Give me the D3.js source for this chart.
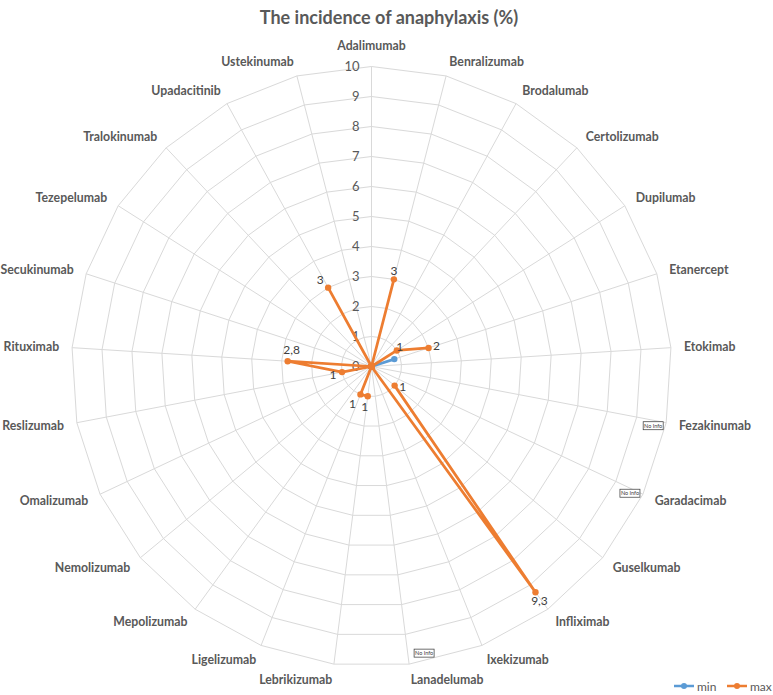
<!DOCTYPE html>
<html>
<head>
<meta charset="utf-8">
<script src="https://cdn.jsdelivr.net/npm/d3@7"></script>
<style>
  body { margin: 0; background: #fff; }
  text { font-family: Lato, "Open Sans", sans-serif; }
</style>
</head>
<body>
<div id="chart"></div>
<script>
// categories clockwise from the top
const categories = ["Adalimumab", "Benralizumab", "Brodalumab", "Certolizumab", "Dupilumab",
  "Etanercept", "Etokimab", "Fezakinumab", "Garadacimab", "Guselkumab", "Infliximab",
  "Ixekizumab", "Lanadelumab", "Lebrikizumab", "Ligelizumab", "Mepolizumab", "Nemolizumab",
  "Omalizumab", "Reslizumab", "Rituximab", "Secukinumab", "Tezepelumab", "Tralokinumab",
  "Upadacitinib", "Ustekinumab"];

// null = no data (gap in the line)
const minValues = [0, 0, 0, 0, 0, 0.8, null, null, null, 0, 0, 0, null, 0, 0, 0, 0, 0, 0, 0, 0, 0, 0, 0, 0];
const maxValues = [0, 3, 0, 0, 1, 2, null, null, null, 1, 9.3, 0, null, 1, 1, 0, 0, 0, 1, 2.8, 0, 0, 0, 3, 0];

const noInfo = ["Fezakinumab", "Garadacimab", "Lanadelumab"];
const tickValues = [0, 1, 2, 3, 4, 5, 6, 7, 8, 9, 10];
const seriesNames = ["min", "max"];
const title = "The incidence of anaphylaxis (%)";

const width = 773, height = 695;
const cx = 371.5, cy = 366.5, radius = 300;
const colors = { min: "#5B9BD5", max: "#ED7D31" };
const textColor = "#595959";

const svg = d3.select("#chart").append("svg")
    .attr("width", width)
    .attr("height", height);

const g = svg.append("g").attr("transform", `translate(${cx},${cy})`);

const n = categories.length;
const angle = d3.scaleLinear().domain([0, n]).range([0, 2 * Math.PI]);
const r = d3.scaleLinear().domain([0, 10]).range([0, radius]);

// rings
const ring = d3.lineRadial()
    .angle((d, i) => angle(i))
    .curve(d3.curveLinearClosed);

g.append("g").selectAll("path")
    .data(tickValues.filter(t => t > 0))
    .enter().append("path")
    .attr("d", t => ring.radius(r(t))(categories))
    .attr("fill", "none")
    .attr("stroke", "#d9d9d9")
    .attr("stroke-width", 1);

// spokes
g.append("g").selectAll("line")
    .data(categories)
    .enter().append("line")
    .attr("x1", 0).attr("y1", 0)
    .attr("x2", (d, i) => r(10) * Math.sin(angle(i)))
    .attr("y2", (d, i) => -r(10) * Math.cos(angle(i)))
    .attr("stroke", "#d9d9d9")
    .attr("stroke-width", 1);

// value axis labels
g.append("g").selectAll("text")
    .data(tickValues)
    .enter().append("text")
    .attr("x", -12)
    .attr("y", t => -r(t))
    .attr("dy", "0.35em")
    .attr("text-anchor", "end")
    .attr("font-size", "13px")
    .attr("fill", textColor)
    .text(t => t);

// category labels
g.append("g").selectAll("text")
    .data(categories)
    .enter().append("text")
    .attr("x", (d, i) => {
        const s = Math.sin(angle(i));
        return r(10) * s + 13 * s;
    })
    .attr("y", (d, i) => {
        const c = Math.cos(angle(i));
        return -r(10) * c - 15 * c - (c > 0.99 ? 6 : 0);
    })
    .attr("dominant-baseline", "central")
    .attr("text-anchor", (d, i) => {
        const s = Math.sin(angle(i));
        return s > 0.05 ? "start" : (s < -0.05 ? "end" : "middle");
    })
    .attr("font-size", "12.3px")
    .attr("font-weight", "bold")
    .attr("fill", textColor)
    .text(d => d);

// series
const line = d3.lineRadial()
    .defined(d => d.v != null)
    .angle(d => angle(d.i))
    .radius(d => r(d.v));

function drawSeries(values, color) {
    const pts = values.map((v, i) => ({ v, i }));
    const closed = pts.concat([{ v: values[0], i: n }]);
    g.append("path")
        .attr("d", line(closed))
        .attr("fill", "none")
        .attr("stroke", color)
        .attr("stroke-width", 2.75)
        .attr("stroke-linejoin", "round");
    g.append("g").selectAll("circle")
        .data(pts.filter(d => d.v != null))
        .enter().append("circle")
        .attr("cx", d => r(d.v) * Math.sin(angle(d.i)))
        .attr("cy", d => -r(d.v) * Math.cos(angle(d.i)))
        .attr("r", 3.2)
        .attr("fill", color);
}

drawSeries(minValues, colors.min);
drawSeries(maxValues, colors.max);

// data labels for max (offsets set by hand in the original)
const labelOffset = {
    Benralizumab: [0, -9], Dupilumab: [3, -4], Etanercept: [8, -2], Guselkumab: [8, 1],
    Infliximab: [4, 8], Lebrikizumab: [-3, 10], Ligelizumab: [-8, 9], Reslizumab: [-9, 2],
    Rituximab: [4, -12], Upadacitinib: [-8, -8]
};
const fmt = v => String(v).replace(".", ",");

g.append("g").selectAll("text")
    .data(maxValues.map((v, i) => ({ v, i })).filter(d => d.v != null && d.v > 0))
    .enter().append("text")
    .attr("x", d => r(d.v) * Math.sin(angle(d.i)) + (labelOffset[categories[d.i]] || [0, -9])[0])
    .attr("y", d => -r(d.v) * Math.cos(angle(d.i)) + (labelOffset[categories[d.i]] || [0, -9])[1])
    .attr("dominant-baseline", "central")
    .attr("text-anchor", "middle")
    .attr("font-size", "12px")
    .attr("fill", "#404040")
    .text(d => fmt(d.v));

// "No Info" boxes
const noInfoOffset = { Fezakinumab: [-13, 3], Garadacimab: [-13, -1], Lanadelumab: [15, -11] };
const boxes = g.append("g").selectAll("g")
    .data(noInfo)
    .enter().append("g")
    .attr("transform", d => {
        const i = categories.indexOf(d);
        const x = r(10) * Math.sin(angle(i)) + noInfoOffset[d][0];
        const y = -r(10) * Math.cos(angle(i)) + noInfoOffset[d][1];
        return `translate(${x},${y})`;
    });
boxes.append("rect")
    .attr("x", -10).attr("y", -4)
    .attr("width", 20).attr("height", 8)
    .attr("fill", "#fff")
    .attr("stroke", "#404040")
    .attr("stroke-width", 0.75);
boxes.append("text")
    .attr("dominant-baseline", "central")
    .attr("text-anchor", "middle")
    .attr("font-size", "5.5px")
    .attr("fill", "#404040")
    .text("No Info");

// legend
const legend = svg.append("g").attr("transform", "translate(674,686)");
const item = legend.selectAll("g")
    .data(seriesNames)
    .enter().append("g")
    .attr("transform", (d, i) => `translate(${i * 53},0)`);
item.append("line")
    .attr("x1", 0).attr("x2", 20)
    .attr("stroke", d => colors[d])
    .attr("stroke-width", 2.5);
item.append("circle")
    .attr("cx", 10).attr("r", 3)
    .attr("fill", d => colors[d]);
item.append("text")
    .attr("x", 23)
    .attr("dominant-baseline", "central")
    .attr("font-size", "12px")
    .attr("fill", textColor)
    .text(d => d);

// title
svg.append("text")
    .attr("x", 389)
    .attr("y", 17)
    .attr("dominant-baseline", "central")
    .attr("text-anchor", "middle")
    .attr("font-size", "18px")
    .attr("font-weight", "bold")
    .attr("fill", textColor)
    .text(title);
</script>
</body>
</html>
